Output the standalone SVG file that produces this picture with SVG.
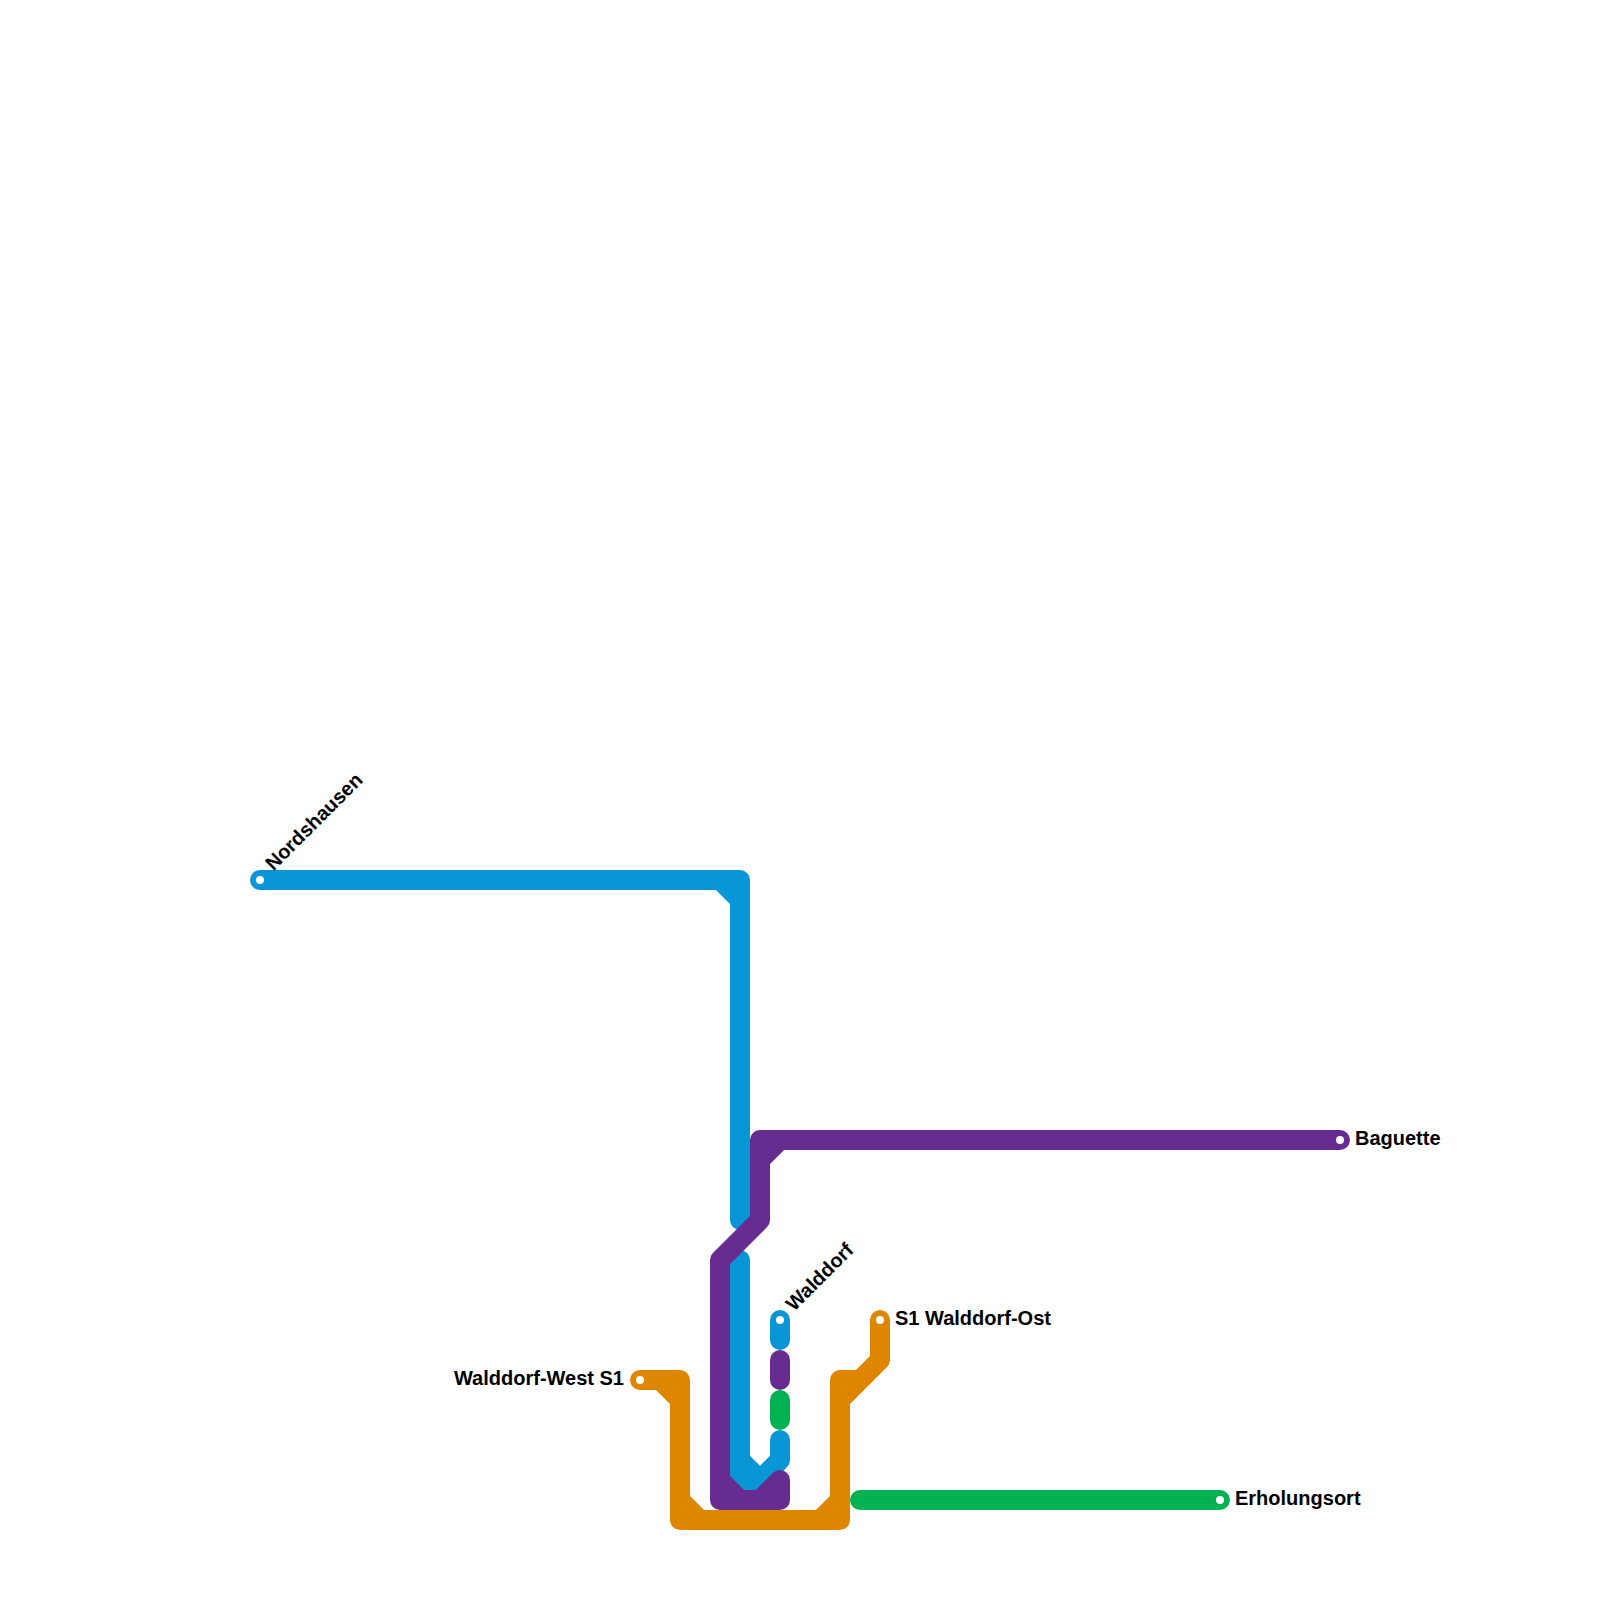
<svg xmlns="http://www.w3.org/2000/svg" width="1600" height="1600" viewBox="0 0 1600 1600">
<style>
.l{fill:none;stroke-width:20;stroke-linecap:round;stroke-linejoin:round}
.b{stroke:#0896d7}.p{stroke:#662c90}.o{stroke:#df8600}.g{stroke:#00b251}
.d{fill:#fff}
text{font-family:"Liberation Sans",Arial,sans-serif;font-weight:700;font-size:20px;fill:#000}
</style>
<rect width="1600" height="1600" fill="#fff"/>
<g id="connectors">
<path class="l b" d="M260 880H740V1220M720 880L740 900"/>
<path class="l b" d="M740 1260V1480H760L780 1460V1440M740 1460L760 1480"/>
<path class="l b" d="M780 1320V1340"/>
<path class="l p" d="M1340 1140H760V1220L720 1260V1500H780V1480M760 1160L780 1140M720 1480L740 1500M760 1500L780 1480"/>
<path class="l p" d="M780 1360V1380"/>
<path class="l g" d="M780 1400V1420"/>
<path class="l g" d="M860 1500H1220"/>
<path class="l o" d="M640 1380H680V1520H840V1380H860L880 1360V1320M660 1380L680 1400M680 1500L700 1520M840 1500L820 1520M840 1400L860 1380"/>
</g>
<g id="nordshausen"><circle class="d" cx="260" cy="880" r="4"/><text transform="translate(273.5 871.5) rotate(-45)">Nordshausen</text></g>
<g id="baguette"><circle class="d" cx="1340" cy="1140" r="4"/><text x="1355" y="1145">Baguette</text></g>
<g id="walddorf"><circle class="d" cx="780" cy="1320" r="4"/><text transform="translate(794 1312) rotate(-45)">Walddorf</text></g>
<g id="walddorf-ost"><circle class="d" cx="880" cy="1320" r="4"/><text x="895" y="1325">S1 Walddorf-Ost</text></g>
<g id="walddorf-west"><circle class="d" cx="640" cy="1380" r="4"/><text x="624" y="1385" text-anchor="end">Walddorf-West S1</text></g>
<g id="erholungsort"><circle class="d" cx="1220" cy="1500" r="4"/><text x="1235" y="1505">Erholungsort</text></g>
</svg>
